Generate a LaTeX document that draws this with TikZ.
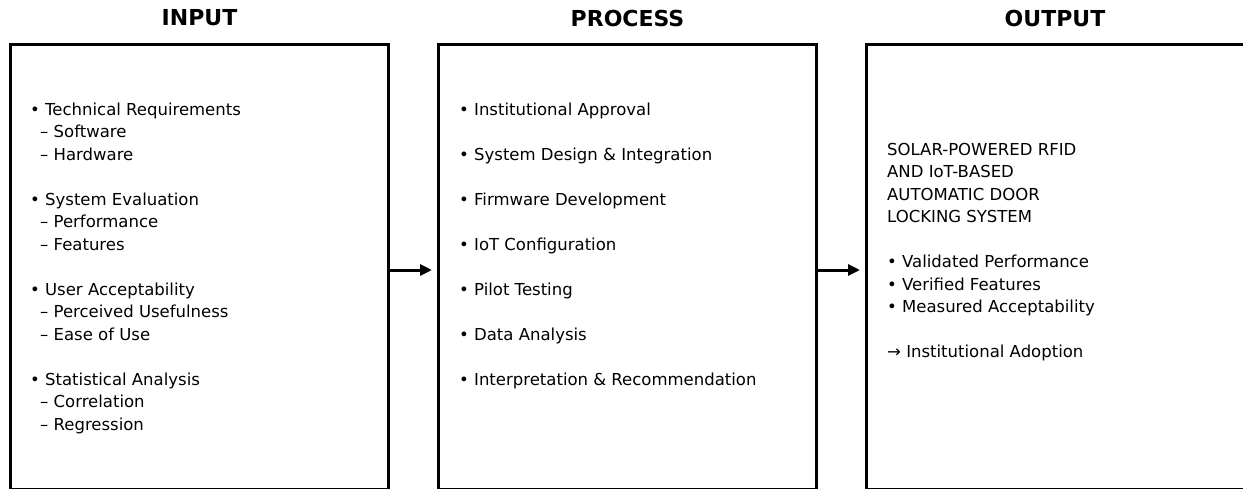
\documentclass[tikz,border=0pt]{standalone}
\usepackage{fontspec}
\setmainfont{DejaVu Sans}
\usetikzlibrary{%
    arrows.meta,
    positioning
}
\tikzset{flowarrow/.style = {-{Triangle[length=12pt,width=11pt]}, line width=3pt, shorten >=5pt}}
\tikzset{stagebox/.style = {draw, line width=3pt, minimum width=378pt, minimum height=445pt, inner sep=0pt}}
\tikzset{stagetitle/.style = {font=\fontsize{22pt}{26pt}\selectfont\bfseries, inner sep=0pt}}
\tikzset{itemlist/.style = {font=\fontsize{16.5pt}{22.5pt}\selectfont, align=left, inner sep=0pt, anchor=north west}}
\newcommand{\subpoint}{\hspace*{10pt}}

\begin{document}
\begin{tikzpicture}[x=1pt,y=-1pt]
    \useasboundingbox (0,0) rectangle (1243,488);

    % stage boxes
    \node[stagebox] (input) at (199.5,266.5) {};
    \node[stagebox] (process) [right=47pt of input] {};
    \node[stagebox, minimum width=392pt] (output) [right=47pt of process] {};

    % titles
    \node[stagetitle] (inputtitle)   at (199.5,18) {INPUT};
    \node[stagetitle] (processtitle) at (627.5,18) {PROCESS};
    \node[stagetitle] (outputtitle)  at (1055,18)  {OUTPUT};

    % box contents
    \node[itemlist] (inputitems) at (30,102.5) {%
        • Technical Requirements\\
        \subpoint– Software\\
        \subpoint– Hardware\\[22.5pt]
        • System Evaluation\\
        \subpoint– Performance\\
        \subpoint– Features\\[22.5pt]
        • User Acceptability\\
        \subpoint– Perceived Usefulness\\
        \subpoint– Ease of Use\\[22.5pt]
        • Statistical Analysis\\
        \subpoint– Correlation\\
        \subpoint– Regression};
    \node[itemlist] (processitems) at (459,102.5) {%
        • Institutional Approval\\[22.5pt]
        • System Design \& Integration\\[22.5pt]
        • Firmware Development\\[22.5pt]
        • IoT Configuration\\[22.5pt]
        • Pilot Testing\\[22.5pt]
        • Data Analysis\\[22.5pt]
        • Interpretation \& Recommendation};
    \node[itemlist] (outputitems) at (887,143) {%
        SOLAR-POWERED RFID\\
        AND IoT-BASED\\
        AUTOMATIC DOOR\\
        LOCKING SYSTEM\\[22.5pt]
        • Validated Performance\\
        • Verified Features\\
        • Measured Acceptability\\[22.5pt]
        → Institutional Adoption};

    % arrows
    \draw[flowarrow] ([yshift=-3.5pt]input.east) -- ([yshift=-3.5pt]process.west);
    \draw[flowarrow] ([yshift=-3.5pt]process.east) -- ([yshift=-3.5pt]output.west);
\end{tikzpicture}
\end{document}
